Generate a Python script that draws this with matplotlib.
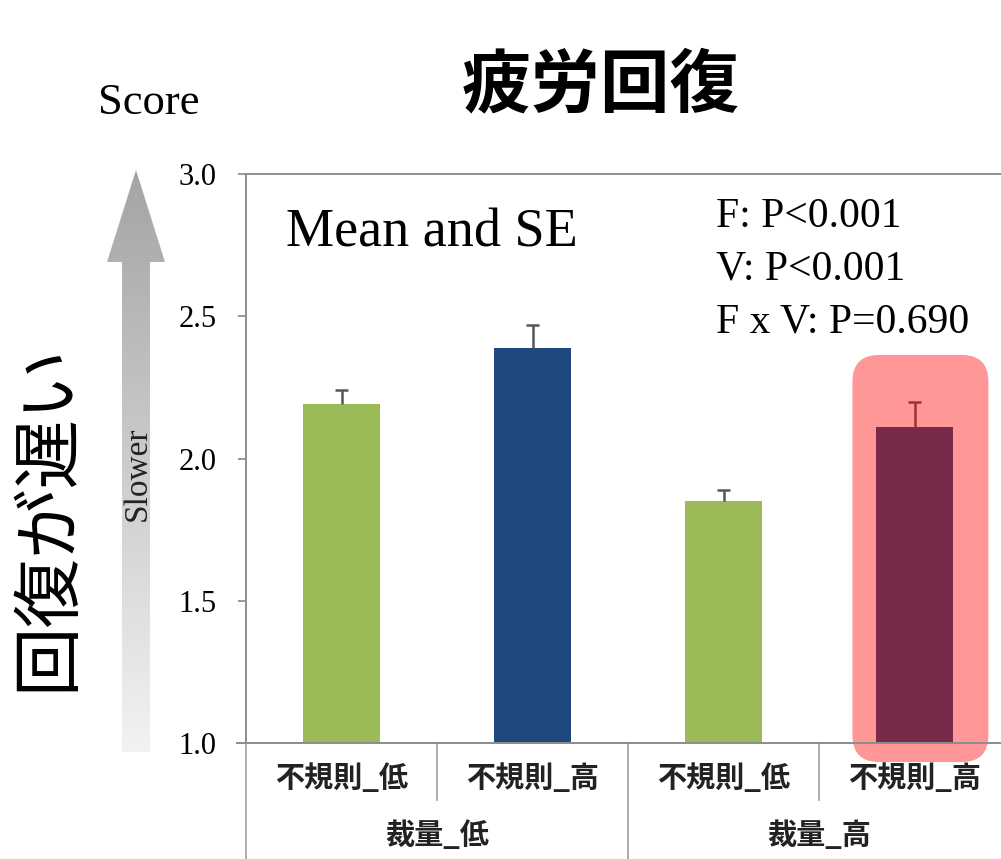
import matplotlib
matplotlib.use("Agg")
import matplotlib.pyplot as plt
import numpy as np
from matplotlib.patches import FancyBboxPatch, Polygon

# data
sub_labels = ["不規則_低", "不規則_高", "不規則_低", "不規則_高"]
group_labels = ["裁量_低", "裁量_高"]
means = [2.19, 2.39, 1.85, 2.11]
ses = [0.05, 0.08, 0.04, 0.09]
bar_colors = ["#9BBB59", "#1F497D", "#9BBB59", "#772A4A"]
stats_lines = ["F: P<0.001", "V: P<0.001", "F x V: P=0.690"]
yticks = [1.0, 1.5, 2.0, 2.5, 3.0]

W, H = 1001, 859
SERIF = ["Liberation Serif", "DejaVu Serif"]
CJK = ["Noto Sans CJK JP", "DejaVu Sans"]


def fx(px):
    return px / W


def fy(py):
    return 1 - py / H


fig = plt.figure(figsize=(W / 100, H / 100), dpi=100)
fig.patch.set_facecolor("white")

# overlay axes in pixel coords for the gradient arrow
ov = fig.add_axes([0, 0, 1, 1], zorder=0)
arrow_pts = [(122, 752), (150, 752), (150, 262), (165, 262), (136, 170),
             (107, 262), (122, 262)]
poly = Polygon(arrow_pts, closed=True, facecolor="none", edgecolor="none")
ov.add_patch(poly)
grad = np.linspace(0.64, 0.95, 256).reshape(-1, 1)
im = ov.imshow(grad, cmap="gray", vmin=0, vmax=1, extent=[100, 170, 755, 165],
               aspect="auto", origin="upper")
im.set_clip_path(poly)
ov.set_xlim(0, W)
ov.set_ylim(H, 0)
ov.axis("off")

ax = fig.add_axes([fx(246), fy(743), fx(1010) - fx(246), fy(174) - fy(743)], zorder=1)
ax.patch.set_alpha(0)
x = np.arange(len(means))

# highlight box behind the last bar
hl = FancyBboxPatch((x[3] - 0.325, 0.933), 0.712, 1.431,
                    boxstyle="round,pad=0,rounding_size=0.14",
                    mutation_aspect=191 / 284.5,
                    facecolor="#FF9797", edgecolor="none", zorder=0, clip_on=False)
ax.add_patch(hl)

ax.bar(x, means, width=0.40, color=bar_colors, zorder=2)
err_colors = ["#555555", "#555555", "#555555", "#A0303A"]
cap = 0.032
for xi, m, s, c in zip(x, means, ses, err_colors):
    ax.vlines(xi, m, m + s, color=c, lw=1.8, zorder=3)
    ax.hlines(m + s, xi - cap, xi + cap, color=c, lw=1.8, zorder=3)

ax.set_xlim(-0.5, 3.5)
ax.set_ylim(1.0, 3.0)
ax.set_yticks(yticks)
ax.set_yticklabels([f"{t:.1f}" for t in yticks], fontfamily=SERIF, fontsize=22)
ax.tick_params(axis="y", direction="out", length=6, width=1.2, color="#888888", pad=15)
ax.set_xticks([])
ax.spines["right"].set_visible(False)
for side in ["left", "top", "bottom"]:
    ax.spines[side].set_color("#8c8c8c")
    ax.spines[side].set_linewidth(1.4)

# extend x axis line left to the tick end
ax.plot([-0.545, -0.5], [1.0, 1.0], color="#8c8c8c", lw=1.4, clip_on=False)

# category separators below the axis
tr = ax.get_xaxis_transform()
for xs in [0.5, 2.5]:
    ax.plot([xs, xs], [0, -0.10], transform=tr, color="#a0a0a0", lw=1.2, clip_on=False)
for xs in [-0.5, 1.5, 3.5]:
    ax.plot([xs, xs], [0, -0.21], transform=tr, color="#a0a0a0", lw=1.2, clip_on=False)

for xi, lab in zip(x, sub_labels):
    ax.text(xi, -0.0615, lab, transform=tr, ha="center", va="center",
            fontsize=21, family=CJK, fontweight="bold", color="#222222")
for gi, lab in enumerate(group_labels):
    ax.text(0.5 + 2 * gi, -0.162, lab, transform=tr, ha="center", va="center",
            fontsize=21, family=CJK, fontweight="bold", color="#222222")

# texts inside the plot
fig.text(fx(286), fy(233), "Mean and SE", ha="left", va="center",
         fontsize=39, family=SERIF)
for i, line in enumerate(stats_lines):
    fig.text(fx(716), fy(217 + 52.5 * i), line, ha="left", va="center",
             fontsize=30, family=SERIF)

# outside texts
fig.text(fx(98), fy(103), "Score", ha="left", va="center", fontsize=32, family=SERIF)
fig.text(fx(601), fy(86), "疲労回復", ha="center", va="center", fontsize=50,
         family=CJK, fontweight="bold")
fig.text(fx(48), fy(517), "回復が遅い", ha="center", va="center", fontsize=50,
         family=CJK, rotation=90)
fig.text(fx(137), fy(474), "Slower", ha="center", va="center", fontsize=24,
         family=SERIF, rotation=90, color="#222222")

fig.savefig("out.png", dpi=100)
